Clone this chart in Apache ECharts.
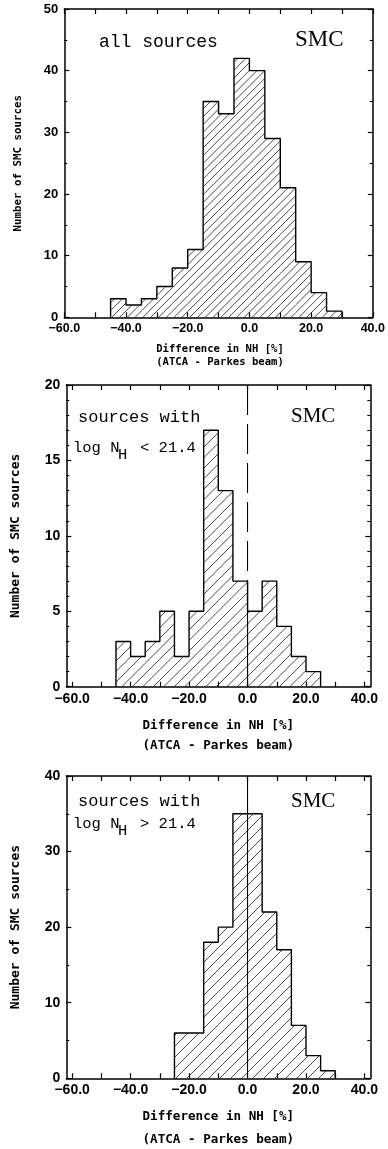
<!DOCTYPE html>
<html>
<head>
<meta charset="utf-8">
<script src="https://cdn.jsdelivr.net/npm/echarts@6/dist/echarts.min.js"></script>
<style>
  html, body { margin: 0; padding: 0; background: #fff; }
  #chart { width: 388px; height: 1149px; }
</style>
</head>
<body>
<div id="chart"></div>
<script>
// Histograms of the NH difference (ATCA - Parkes beam), 5 % wide bins.
const binWidth = 5;

// all sources
const allStart = -45;
const allCounts = [3, 2, 3, 5, 8, 11, 35, 33, 42, 40, 29, 21, 9, 4, 1];

// sources with log NH < 21.4
const lowStart = -45;
const lowCounts = [3, 2, 3, 5, 2, 5, 17, 13, 7, 5, 7, 4, 2, 1];

// sources with log NH > 21.4
const highStart = -25;
const highCounts = [6, 6, 18, 20, 35, 35, 22, 17, 7, 3, 1];

// x-axis ticks and labels
const xTicks = [-60, -50, -40, -30, -20, -10, 0, 10, 20, 30, 40];
const xLabels = [-60, -40, -20, 0, 20, 40];

const MONO = '"DejaVu Sans Mono", "Liberation Mono", monospace';
const SANS = '"Liberation Sans", Arial, sans-serif';
const SERIF = '"Liberation Serif", "Times New Roman", serif';

const panels = [
  {
    start: allStart, counts: allCounts, refLine: null,
    grid: { left: 64.3, top: 9, width: 311.4, height: 308.3 },
    xMin: -60, xMax: 40, yMax: 50, yInterval: 10, yMinorSplit: 2,
    hatch: 7.8, tickFont: 12.5, yTickFont: 13, titleFont: 10.6, yTitleFont: 10.8,
    yTitleX: 18, xTitleY: [349, 362.7]
  },
  {
    start: lowStart, counts: lowCounts, refLine: 'dashed',
    grid: { left: 66.3, top: 385, width: 304, height: 301.7 },
    xMin: -62, xMax: 42, yMax: 20, yInterval: 5, yMinorSplit: 5,
    hatch: 10.5, tickFont: 14, yTickFont: 14, titleFont: 12.6, yTitleFont: 13,
    yTitleX: 16, xTitleY: [725.7, 745.7]
  },
  {
    start: highStart, counts: highCounts, refLine: 'solid',
    grid: { left: 66.3, top: 776, width: 304, height: 302.3 },
    xMin: -62, xMax: 42, yMax: 40, yInterval: 10, yMinorSplit: 2,
    hatch: 11, tickFont: 14, yTickFont: 14, titleFont: 12.6, yTitleFont: 13,
    yTitleX: 16, xTitleY: [1116.7, 1140]
  }
];

function fmtX(v) {
  const s = Math.abs(v).toFixed(1);
  return v < 0 ? '\u2212' + s : s;
}

// Hatched bin: diagonal "/" lines clipped to the bar rectangle; the lines
// share a global phase so they run on unbroken from one bin to the next.
function hatchRenderer(spacing) {
  return function (params, api) {
    const x0 = api.value(0), x1 = api.value(1), v = api.value(2);
    const a = api.coord([x0, v]);
    const b = api.coord([x1, 0]);
    const rx = a[0], ry = a[1], rw = b[0] - a[0], rh = b[1] - a[1];
    const children = [];
    const cMin = rx + ry, cMax = rx + rw + ry + rh;
    for (let k = Math.ceil(cMin / spacing); k * spacing <= cMax; k++) {
      const c = k * spacing;
      const xa = Math.max(rx, c - (ry + rh));
      const xb = Math.min(rx + rw, c - ry);
      if (xb - xa > 0.3) {
        children.push({
          type: 'line',
          shape: { x1: xa, y1: c - xa, x2: xb, y2: c - xb },
          style: { stroke: '#1a1a1a', lineWidth: 0.8 }
        });
      }
    }
    return { type: 'group', children: children };
  };
}

const grids = [], xAxes = [], yAxes = [], series = [], graphics = [];
const black = '#000';

panels.forEach(function (p, i) {
  grids.push(Object.assign({ containLabel: false, show: false }, p.grid));

  const xBase = {
    gridIndex: i, type: 'value', min: p.xMin, max: p.xMax,
    axisLine: { show: true, onZero: false, lineStyle: { color: black, width: 1.5 } },
    axisTick: { show: true, inside: true, length: 5, customValues: xTicks,
                lineStyle: { color: black, width: 1.2 } },
    splitLine: { show: false }
  };
  xAxes.push(Object.assign({}, xBase, {
    position: 'bottom',
    axisLabel: { show: true, customValues: xLabels, formatter: fmtX, margin: 5,
                 color: black, fontFamily: SANS, fontWeight: 'bold', fontSize: p.tickFont }
  }));
  xAxes.push(Object.assign({}, xBase, {
    position: 'top', axisLabel: { show: false }
  }));

  const yBase = {
    gridIndex: i, type: 'value', min: 0, max: p.yMax, interval: p.yInterval,
    axisLine: { show: true, onZero: false, lineStyle: { color: black, width: 1.5 } },
    axisTick: { show: true, inside: true, length: 5, lineStyle: { color: black, width: 1.2 } },
    minorTick: { show: true, splitNumber: p.yMinorSplit, length: 3,
                 lineStyle: { color: black, width: 1.1 } },
    splitLine: { show: false }, minorSplitLine: { show: false }
  };
  yAxes.push(Object.assign({}, yBase, {
    position: 'left',
    axisLabel: { show: true, margin: 6, color: black, fontFamily: SANS,
                 fontWeight: 'bold', fontSize: p.yTickFont }
  }));
  yAxes.push(Object.assign({}, yBase, {
    position: 'right', axisLabel: { show: false }
  }));

  const xi = i * 2, yi = i * 2;

  // bins as [left edge, right edge, count]
  const bins = p.counts.map(function (c, k) {
    return [p.start + k * binWidth, p.start + (k + 1) * binWidth, c];
  });

  series.push({
    type: 'custom', xAxisIndex: xi, yAxisIndex: yi,
    renderItem: hatchRenderer(p.hatch),
    encode: { x: [0, 1], y: 2 },
    data: bins, z: 2, silent: true
  });

  // step outline of the histogram
  const outline = [[bins[0][0], 0]];
  bins.forEach(function (b) { outline.push([b[0], b[2]]); outline.push([b[1], b[2]]); });
  outline.push([bins[bins.length - 1][1], 0]);
  series.push({
    type: 'line', xAxisIndex: xi, yAxisIndex: yi, data: outline,
    symbol: 'none', lineStyle: { color: black, width: 1.4 }, z: 4, silent: true
  });

  // vertical reference line at zero difference
  if (p.refLine === 'dashed') {
    series.push({
      type: 'line', xAxisIndex: xi, yAxisIndex: yi,
      data: [[0, p.yMax], [0, 0]], symbol: 'none', z: 3, silent: true,
      lineStyle: { color: black, width: 1.1, type: [30, 9] }
    });
    // inside the hatched area the line is continuous
    const left = bins.find(function (b) { return b[1] === 0; });
    const right = bins.find(function (b) { return b[0] === 0; });
    const inner = Math.min(left ? left[2] : 0, right ? right[2] : 0);
    series.push({
      type: 'line', xAxisIndex: xi, yAxisIndex: yi,
      data: [[0, 0], [0, inner]], symbol: 'none', z: 3, silent: true,
      lineStyle: { color: black, width: 1.1 }
    });
  } else if (p.refLine === 'solid') {
    series.push({
      type: 'line', xAxisIndex: xi, yAxisIndex: yi,
      data: [[0, 0], [0, p.yMax]], symbol: 'none', z: 3, silent: true,
      lineStyle: { color: black, width: 1.1 }
    });
  }

  // axis titles
  const cx = p.grid.left + p.grid.width / 2;
  const cy = p.grid.top + p.grid.height / 2;
  graphics.push({
    type: 'text', x: cx, y: p.xTitleY[0], silent: true,
    style: { text: 'Difference in NH [%]', fill: black, align: 'center', verticalAlign: 'middle',
             textAlign: 'center', textVerticalAlign: 'middle',
             font: 'bold ' + p.titleFont + 'px ' + MONO }
  });
  graphics.push({
    type: 'text', x: cx, y: p.xTitleY[1], silent: true,
    style: { text: '(ATCA - Parkes beam)', fill: black, align: 'center', verticalAlign: 'middle',
             textAlign: 'center', textVerticalAlign: 'middle',
             font: 'bold ' + p.titleFont + 'px ' + MONO }
  });
  graphics.push({
    type: 'text', x: p.yTitleX, y: cy, rotation: Math.PI / 2, silent: true,
    style: { text: 'Number of SMC sources', fill: black, align: 'center', verticalAlign: 'middle',
             textAlign: 'center', textVerticalAlign: 'middle',
             font: 'bold ' + p.yTitleFont + 'px ' + MONO }
  });
});

// in-plot annotations
function note(text, x, y, font, align) {
  graphics.push({
    type: 'text', x: x, y: y, silent: true, z: 10,
    style: { text: text, fill: black, align: align || 'left', verticalAlign: 'middle',
             textAlign: align || 'left', textVerticalAlign: 'middle', font: font }
  });
}
const noteFont = '17px "Liberation Mono", monospace';
const logFont = '15.5px "Liberation Mono", monospace';

note('all sources', 99, 42, '18px "Liberation Mono", monospace');
note('SMC', 295, 40, '23px ' + SERIF);

note('sources with', 78, 417, noteFont);
note('SMC', 291, 416, '21px ' + SERIF);
note('log N', 73, 447.4, logFont);
note('H', 118, 455, logFont);
note('< 21.4', 140, 447.4, logFont);

note('sources with', 78, 801.5, noteFont);
note('SMC', 291, 801, '21px ' + SERIF);
note('log N', 73, 823.7, logFont);
note('H', 118, 831, logFont);
note('> 21.4', 140, 823.7, logFont);

const chart = echarts.init(document.getElementById('chart'), null, { renderer: 'canvas' });
chart.setOption({
  animation: false,
  backgroundColor: '#fff',
  grid: grids,
  xAxis: xAxes,
  yAxis: yAxes,
  series: series,
  graphic: { elements: graphics }
});
</script>
</body>
</html>
